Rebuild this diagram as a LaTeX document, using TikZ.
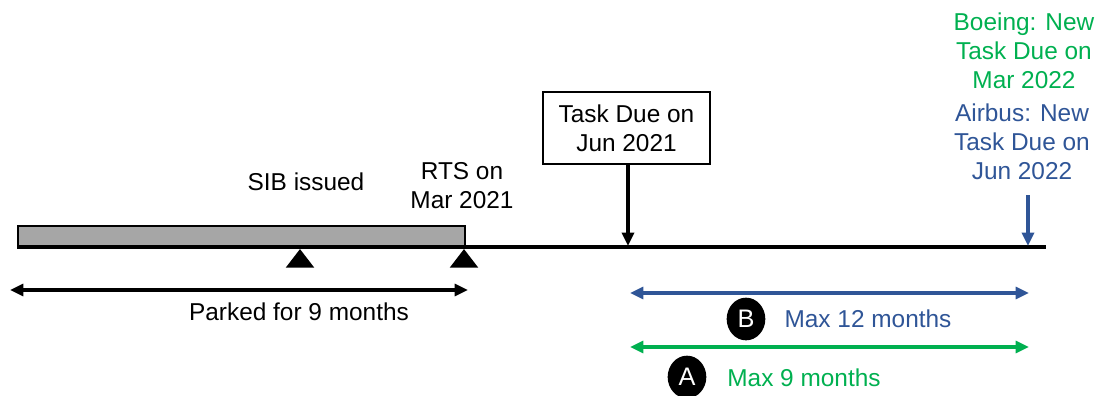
\documentclass[tikz,border=0pt]{standalone}
\usepackage{fontspec}
\setmainfont{Liberation Sans}
\usetikzlibrary{arrows.meta,shapes.geometric}
\definecolor{tgreen}{HTML}{00B050}
\definecolor{tblue}{HTML}{2F5597}
\definecolor{bargray}{HTML}{A6A6A6}
\begin{document}
\begin{tikzpicture}[x=0.75pt,y=-0.75pt,
  lbl/.style={inner sep=0pt,align=center,font=\fontsize{18.3}{21.8}\selectfont},
  dimarrow/.style={line width=2.3pt,{Triangle[length=10pt,width=9pt]}-{Triangle[length=10pt,width=9pt]}},
  downarrow/.style={line width=2.4pt,-{Triangle[length=10pt,width=9pt]}},
  badge/.style={ellipse,fill=black,minimum width=29pt,minimum height=32pt,inner sep=0pt,text=white,font=\fontsize{19}{22}\selectfont},
  marker/.style={isosceles triangle,isosceles triangle apex angle=75,shape border rotate=90,fill=black,minimum height=14pt,inner sep=0pt}]
\useasboundingbox (0,0) rectangle (1104,396);
% parked bar and timeline
\node[draw=black,line width=1.5pt,fill=bargray,minimum width=447*0.75pt,minimum height=21*0.75pt,inner sep=0pt,anchor=north west] (bar) at (17,225) {};
\coordinate (tlstart) at (17,247);
\coordinate (tlend) at (1046,247);
\draw[line width=3pt] (tlstart) -- (tlend);
% markers
\node[marker,anchor=south] (sib) at (300,268) {};
\node[marker,anchor=south] (rts) at (464,268) {};
\node[lbl] (sibl) at (306,182) {SIB issued};
\node[lbl] (rtsl) at (462,186) {RTS on\\Mar 2021};
% parked arrow
\coordinate (pa) at (10,290);
\coordinate (pb) at (468,290);
\draw[dimarrow] (pa) -- (pb);
\node[lbl] (parked) at (299,312) {Parked for 9 months};
% task due box
\node[draw=black,line width=1.2pt,lbl,minimum width=167*0.75pt,minimum height=72*0.75pt,inner sep=0pt] (task) at (626.5,128) {Task Due on\\Jun 2021};
\coordinate (taskpt) at (628,246);
\draw[downarrow] (628,163) -- (taskpt);
% right labels
\node[lbl,text=tgreen] (boeing) at (1024,51) {Boeing: New\\Task Due on\\Mar 2022};
\node[lbl,text=tblue] (airbus) at (1022,142) {Airbus: New\\Task Due on\\Jun 2022};
\coordinate (newpt) at (1028,246);
\coordinate (newtop) at (1028,195);
\draw[downarrow,tblue] (newtop) -- (newpt);
% B range
\coordinate (ba) at (630,293);
\coordinate (bb) at (1029,293);
\draw[dimarrow,tblue] (ba) -- (bb);
\node[badge] (B) at (746,319) {B};
\node[lbl,text=tblue] (bl) at (868,319) {Max 12 months};
% A range
\coordinate (aa) at (630,347);
\coordinate (ab) at (1029,347);
\draw[dimarrow,tgreen] (aa) -- (ab);
\node[badge] (A) at (687,377) {A};
\node[lbl,text=tgreen] (al) at (804,378) {Max 9 months};
\end{tikzpicture}
\end{document}
